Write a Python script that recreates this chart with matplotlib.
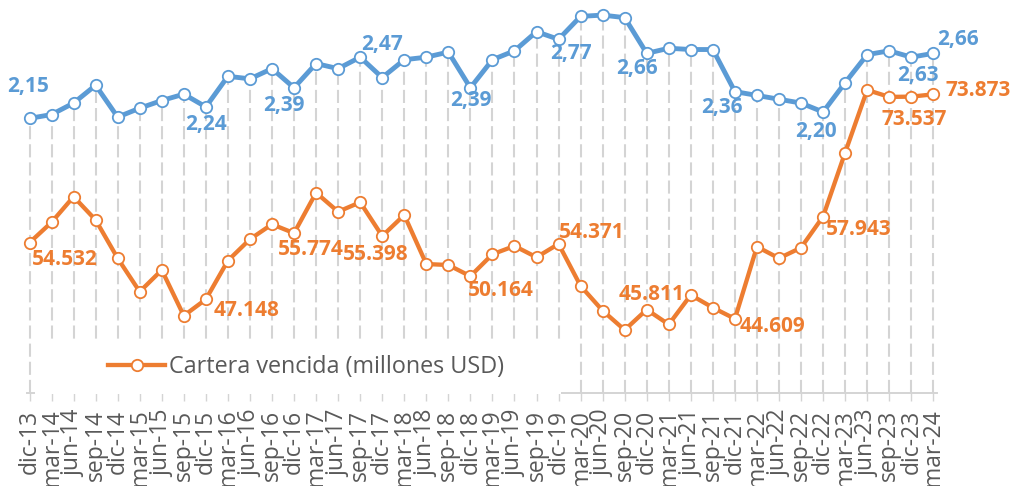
import matplotlib
matplotlib.use("Agg")
import matplotlib.pyplot as plt
from matplotlib.patches import Rectangle
from matplotlib.lines import Line2D

plt.rcParams['font.family'] = ['Open Sans', 'DejaVu Sans']

# ---------------- data ----------------
categories = ['dic-13', 'mar-14', 'jun-14', 'sep-14', 'dic-14', 'mar-15', 'jun-15', 'sep-15',
              'dic-15', 'mar-16', 'jun-16', 'sep-16', 'dic-16', 'mar-17', 'jun-17', 'sep-17',
              'dic-17', 'mar-18', 'jun-18', 'sep-18', 'dic-18', 'mar-19', 'jun-19', 'sep-19',
              'dic-19', 'mar-20', 'jun-20', 'sep-20', 'dic-20', 'mar-21', 'jun-21', 'sep-21',
              'dic-21', 'mar-22', 'jun-22', 'sep-22', 'dic-22', 'mar-23', 'jun-23', 'sep-23',
              'dic-23', 'mar-24']

ratio = [2.15, 2.18, 2.27, 2.41, 2.16, 2.23, 2.29, 2.34,
         2.24, 2.48, 2.46, 2.54, 2.39, 2.58, 2.54, 2.63,
         2.47, 2.61, 2.63, 2.67, 2.39, 2.61, 2.68, 2.83,
         2.77, 2.95, 2.96, 2.94, 2.66, 2.70, 2.69, 2.69,
         2.36, 2.33, 2.30, 2.27, 2.20, 2.43, 2.65, 2.68,
         2.63, 2.66]

cartera_vencida = [54.532, 57.19, 60.53, 57.49, 52.50, 48.14, 50.97, 45.01,
                   47.148, 52.19, 54.98, 56.93, 55.774, 61.05, 58.57, 59.80,
                   55.398, 58.14, 51.75, 51.62, 50.164, 53.02, 54.10, 52.63,
                   54.371, 48.89, 45.67, 43.15, 45.811, 43.87, 47.71, 46.06,
                   44.609, 54.01, 52.50, 53.88, 57.943, 66.27, 74.44, 73.537,
                   73.57, 73.873]

legend_label = 'Cartera vencida (millones USD)'

# labelled points (index) and label offsets in pixels (dx, dy up)
ratio_label_idx = [0, 8, 12, 16, 20, 24, 28, 32, 36, 40, 41]
ratio_label_off = [(-1, 32), (0, -18), (-10, -18), (0, 33), (1, -13), (12, -14),
                   (-10, -15), (-13, -16), (-7, -19), (7, -18), (25, 14)]
cv_label_idx = [0, 8, 12, 16, 20, 24, 28, 32, 36, 39, 41]
cv_label_off = [(35, -17), (41, -11), (17, -16), (-6, -18), (30, -14), (33, 11),
                (5, 15), (38, -8), (36, -13), (25, -23), (45, 4)]

# ---------------- style ----------------
BLUE = '#5B9BD5'
ORANGE = '#ED7D31'
GRID = '#D4D4D4'
TXT = '#595959'

W, H = 1013, 486
fig = plt.figure(figsize=(W / 100, H / 100), dpi=100)

x = list(range(len(categories)))
xmin, xmax = -0.1, len(categories) - 1 + 0.15
step = (933.3 - 29.5) / (len(categories) - 1)
left_px = 29.5 + xmin * step
right_px = 933.3 + 0.15 * step
bottom_px = 392.5
ax = fig.add_axes([left_px / W, (H - bottom_px) / H, (right_px - left_px) / W, bottom_px / H])
ax2 = ax.twinx()
ax.set_zorder(ax2.get_zorder() + 1)
ax.patch.set_visible(False)

ax.set_xlim(xmin, xmax)
ax.set_ylim(35.0, 86.17)
ax2.set_ylim(0, 392.5 / 127.5)

# drop lines from blue series
ax2.vlines(x, 0, ratio, colors=GRID, linewidth=1.5,
           linestyles=(0, (6.3, 2.4)), zorder=1)

ax2.plot(x, ratio, color=BLUE, lw=3.5, marker='o', ms=8.2, mfc='white',
         mec=BLUE, mew=1.3, clip_on=False, zorder=3)
ax.plot(x, cartera_vencida, color=ORANGE, lw=3.1, marker='o', ms=8.2,
        mfc='white', mec=ORANGE, mew=1.3, clip_on=False, zorder=3)

for i, (dx, dy) in zip(ratio_label_idx, ratio_label_off):
    ax2.annotate(f"{ratio[i]:.2f}".replace('.', ','), xy=(i, ratio[i]),
                 xytext=(dx, dy), textcoords='offset pixels', ha='center', va='center',
                 fontsize=15, fontweight='bold', color=BLUE, annotation_clip=False)
for i, (dx, dy) in zip(cv_label_idx, cv_label_off):
    ax.annotate(f"{cartera_vencida[i]:.3f}", xy=(i, cartera_vencida[i]),
                xytext=(dx, dy), textcoords='offset pixels', ha='center', va='center',
                fontsize=15, fontweight='bold', color=ORANGE, annotation_clip=False)

# axes styling
for a in (ax, ax2):
    for s in ('top', 'left', 'right'):
        a.spines[s].set_visible(False)
    a.set_yticks([])
ax2.spines['bottom'].set_visible(False)
ax.spines['bottom'].set_color(GRID)
ax.spines['bottom'].set_linewidth(1.4)
ax.set_xticks(x)
ax.set_xticklabels(categories, rotation=90, fontsize=16.5, color=TXT)
ax.tick_params(axis='x', direction='out', length=5.4, width=1.0, color=GRID, pad=7)

# white legend box covering the lower left part
fig.patches.append(Rectangle((35 / W, (H - 393.8) / H), (561 - 35) / W, (393.8 - 340) / H,
                             transform=fig.transFigure, facecolor='white',
                             edgecolor='none', zorder=3))
handle = Line2D([], [], color=ORANGE, lw=3.1, marker='o', ms=8.2, mfc='white',
                mec=ORANGE, mew=1.3)
leg = fig.legend([handle], [legend_label], loc='center left',
                 bbox_to_anchor=(108 / W, 1 - 367 / H), frameon=False, borderpad=0,
                 borderaxespad=0, handlelength=2.45, handletextpad=0.15, fontsize=16.8,
                 labelcolor=TXT)
leg.set_zorder(5)

fig.savefig('out.png', dpi=100)
